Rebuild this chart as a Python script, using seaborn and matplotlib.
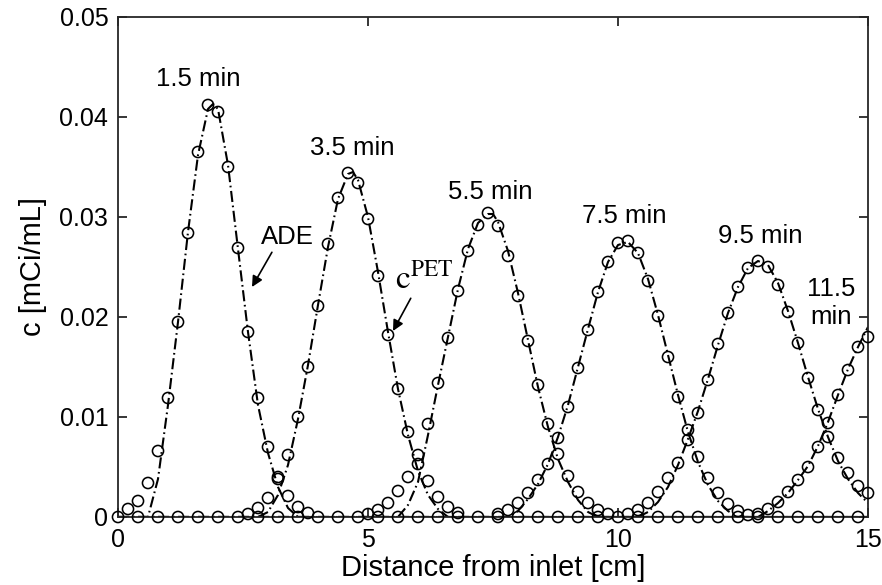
import numpy as np
import pandas as pd
import matplotlib
matplotlib.use("Agg")
import matplotlib.pyplot as plt
import seaborn as sns

# ---- measured PET concentrations (c^PET), 0.2 cm voxels --------------------
pet_15_x = np.round(np.arange(0.2, 3.81, 0.2), 1)
pet_15_c = [0.0008, 0.0016, 0.0034, 0.0066, 0.0119, 0.0195, 0.0284, 0.0365,
            0.0412, 0.0405, 0.0350, 0.0269, 0.0185, 0.0119, 0.0070, 0.0040,
            0.0021, 0.0010, 0.0004]

pet_35_x = np.round(np.arange(2.6, 6.81, 0.2), 1)
pet_35_c = [0.0003, 0.0009, 0.0019, 0.0038, 0.0062, 0.0100, 0.0150, 0.0211,
            0.0273, 0.0319, 0.0344, 0.0334, 0.0298, 0.0241, 0.0182, 0.0128,
            0.0085, 0.0053, 0.0036, 0.0020, 0.0010, 0.0004]

pet_55_x = np.round(np.arange(5.0, 9.81, 0.2), 1)
pet_55_c = [0.0003, 0.0007, 0.0014, 0.0026, 0.0040, 0.0062, 0.0093, 0.0134,
            0.0179, 0.0226, 0.0266, 0.0292, 0.0304, 0.0291, 0.0261, 0.0221,
            0.0176, 0.0132, 0.0093, 0.0063, 0.0041, 0.0025, 0.0014, 0.0007,
            0.0003]

pet_75_x = np.round(np.arange(7.6, 12.61, 0.2), 1)
pet_75_c = [0.0003, 0.0007, 0.0014, 0.0024, 0.0037, 0.0053, 0.0079, 0.0110,
            0.0149, 0.0187, 0.0225, 0.0255, 0.0274, 0.0276, 0.0264, 0.0236,
            0.0201, 0.0160, 0.0120, 0.0087, 0.0060, 0.0039, 0.0024, 0.0013,
            0.0006, 0.0002]

pet_95_x = np.round(np.arange(10.2, 15.01, 0.2), 1)
pet_95_c = [0.0003, 0.0007, 0.0014, 0.0025, 0.0039, 0.0054, 0.0077, 0.0104,
            0.0137, 0.0173, 0.0204, 0.0230, 0.0249, 0.0256, 0.0250, 0.0232,
            0.0205, 0.0174, 0.0139, 0.0107, 0.0080, 0.0059, 0.0044, 0.0031,
            0.0024]

pet_115_x = np.round(np.arange(12.8, 15.01, 0.2), 1)
pet_115_c = [0.0003, 0.0008, 0.0015, 0.0025, 0.0037, 0.0050, 0.0070, 0.0094,
             0.0122, 0.0147, 0.0170, 0.0180]

# voxels with no activity along the column
base_x = np.round(np.arange(0.0, 15.0, 0.4), 1)
base_c = np.zeros(len(base_x))

# ---- ADE model profiles --------------------------------------------------
ade_15_x = [0.0, 0.6, 0.8, 1.0, 1.2, 1.4, 1.6, 1.8, 1.9, 2.0, 2.2, 2.4, 2.6,
            2.8, 3.0, 3.2, 3.4, 3.6, 15.0]
ade_15_c = [0.0, 0.0, 0.0038, 0.0112, 0.0195, 0.0285, 0.0362, 0.0408, 0.0413,
            0.0408, 0.0352, 0.0268, 0.0185, 0.0112, 0.0064, 0.0030, 0.0009,
            0.0, 0.0]

ade_35_x = [0.0, 2.8, 3.0, 3.2, 3.4, 3.6, 3.8, 4.0, 4.2, 4.4, 4.6, 4.7, 4.8,
            5.0, 5.2, 5.4, 5.6, 5.8, 6.0, 6.2, 6.4, 6.6, 15.0]
ade_35_c = [0.0, 0.0, 0.0005, 0.0022, 0.0052, 0.0098, 0.0152, 0.0212, 0.0270,
            0.0318, 0.0343, 0.0345, 0.0337, 0.0300, 0.0245, 0.0185, 0.0128,
            0.0082, 0.0046, 0.0022, 0.0008, 0.0, 0.0]

ade_55_x = [0.0, 5.6, 5.8, 6.0, 6.2, 6.4, 6.6, 6.8, 7.0, 7.2, 7.4, 7.5, 7.6,
            7.8, 8.0, 8.2, 8.4, 8.6, 8.8, 9.0, 9.2, 9.4, 9.6, 15.0]
ade_55_c = [0.0, 0.0, 0.0012, 0.0035, 0.0082, 0.0132, 0.0180, 0.0228, 0.0268,
            0.0294, 0.0303, 0.0303, 0.0295, 0.0266, 0.0224, 0.0177, 0.0130,
            0.0090, 0.0058, 0.0035, 0.0017, 0.0005, 0.0, 0.0]

ade_75_x = [0.0, 7.8, 8.0, 8.2, 8.4, 8.6, 8.8, 9.0, 9.2, 9.4, 9.6, 9.8, 10.0,
            10.2, 10.4, 10.6, 10.8, 11.0, 11.2, 11.4, 11.6, 11.8, 12.0, 12.2,
            12.4, 15.0]
ade_75_c = [0.0, 0.0, 0.0006, 0.0018, 0.0033, 0.0053, 0.0080, 0.0112, 0.0150,
            0.0188, 0.0225, 0.0255, 0.0272, 0.0275, 0.0264, 0.0238, 0.0202,
            0.0162, 0.0122, 0.0085, 0.0055, 0.0032, 0.0016, 0.0006, 0.0, 0.0]

ade_95_x = [0.0, 10.4, 10.6, 10.8, 11.0, 11.2, 11.4, 11.6, 11.8, 12.0, 12.2,
            12.4, 12.6, 12.8, 13.0, 13.2, 13.4, 13.6, 13.8, 14.0, 14.2, 14.4,
            14.6, 14.8, 15.0]
ade_95_c = [0.0, 0.0, 0.0005, 0.0015, 0.0030, 0.0052, 0.0078, 0.0106, 0.0138,
            0.0172, 0.0204, 0.0230, 0.0249, 0.0256, 0.0252, 0.0234, 0.0206,
            0.0174, 0.0140, 0.0108, 0.0080, 0.0056, 0.0038, 0.0024, 0.0014]

ade_115_x = [0.0, 12.8, 13.0, 13.2, 13.4, 13.6, 13.8, 14.0, 14.2, 14.4, 14.6,
             14.8, 15.0]
ade_115_c = [0.0, 0.0, 0.0006, 0.0014, 0.0024, 0.0037, 0.0051, 0.0071, 0.0095,
             0.0122, 0.0148, 0.0170, 0.0190]

# ---- labels --------------------------------------------------------------
time_labels = ["1.5 min", "3.5 min", "5.5 min", "7.5 min", "9.5 min",
               "11.5\nmin"]
x_ticks = [0, 5, 10, 15]
x_tick_labels = ["0", "5", "10", "15"]
y_ticks = [0.0, 0.01, 0.02, 0.03, 0.04, 0.05]
y_tick_labels = ["0", "0.01", "0.02", "0.03", "0.04", "0.05"]

# ---- long tables ---------------------------------------------------------
pet_sets = [(pet_15_x, pet_15_c), (pet_35_x, pet_35_c), (pet_55_x, pet_55_c),
            (pet_75_x, pet_75_c), (pet_95_x, pet_95_c), (pet_115_x, pet_115_c),
            (base_x, base_c)]
ade_sets = [(ade_15_x, ade_15_c), (ade_35_x, ade_35_c), (ade_55_x, ade_55_c),
            (ade_75_x, ade_75_c), (ade_95_x, ade_95_c), (ade_115_x, ade_115_c)]

pet_df = pd.concat([pd.DataFrame({"x": xs, "c": cs, "series": i})
                    for i, (xs, cs) in enumerate(pet_sets)], ignore_index=True)
ade_df = pd.concat([pd.DataFrame({"x": xs, "c": cs, "series": i})
                    for i, (xs, cs) in enumerate(ade_sets)], ignore_index=True)

# ---- style ---------------------------------------------------------------
sns.set_theme(style="ticks")
ink = "#262626"
plt.rcParams.update({
    "font.family": ["Liberation Sans", "DejaVu Sans"],
    "axes.edgecolor": ink,
    "axes.linewidth": 1.3,
    "xtick.color": ink,
    "ytick.color": ink,
    "xtick.direction": "in",
    "ytick.direction": "in",
    "xtick.major.size": 6.5,
    "ytick.major.size": 6.5,
    "xtick.major.width": 1.3,
    "ytick.major.width": 1.3,
    "lines.scale_dashes": False,
})

fig = plt.figure(figsize=(8.82, 5.85), dpi=100)
ax = fig.add_axes([118 / 882, 68 / 585, 750 / 882, 500 / 585])

sns.lineplot(data=ade_df, x="x", y="c", units="series", estimator=None,
             sort=False, color="black", linewidth=1.5,
             linestyle=(0, (8, 2.6, 1.2, 2.6)), ax=ax, legend=False)

sns.scatterplot(data=pet_df, x="x", y="c", marker="o", s=64,
                color="black", facecolors="none", edgecolor="black",
                linewidth=1.15, clip_on=False, zorder=3, ax=ax, legend=False)

ax.set_xlim(0, 15)
ax.set_ylim(0, 0.05)
ax.set_xticks(x_ticks)
ax.set_xticklabels(x_tick_labels)
ax.set_yticks(y_ticks)
ax.set_yticklabels(y_tick_labels)
ax.tick_params(axis="both", which="both", top=True, right=True,
               labelsize=18, labelcolor="black")
ax.tick_params(axis="x", pad=8)
ax.tick_params(axis="y", pad=7)
for side in ["top", "right", "left", "bottom"]:
    ax.spines[side].set_visible(True)
    ax.spines[side].set_color(ink)

ax.set_xlabel("Distance from inlet [cm]", fontsize=21, color="black",
              labelpad=1)
ax.set_ylabel("c [mCi/mL]", fontsize=21, color="black", labelpad=9)

# time labels above each profile
label_pos = [(1.60, 0.0438), (4.68, 0.0369), (7.44, 0.0325), (10.12, 0.0301),
             (12.84, 0.0281), (14.26, 0.0214)]
for text, (lx, ly) in zip(time_labels, label_pos):
    ax.text(lx, ly, text, fontsize=18.5, ha="center", va="center",
            color="black", linespacing=1.25)

# callouts
arrow = dict(arrowstyle="-|>", color="black", lw=1.2, mutation_scale=16,
             shrinkA=0, shrinkB=0)
ax.annotate("ADE", xy=(2.68, 0.0230), xytext=(3.38, 0.0280),
            fontsize=18.5, ha="center", va="center", color="black",
            arrowprops=dict(arrow, relpos=(0.25, 0.0)))
ax.annotate(r"$\mathrm{c}^{\mathrm{PET}}$", xy=(5.50, 0.0186),
            xytext=(5.54, 0.0229), fontsize=24, ha="left", va="baseline",
            math_fontfamily="stix", color="black",
            arrowprops=dict(arrow, relpos=(0.3, 0.0)))

fig.savefig("out.png", dpi=100)
